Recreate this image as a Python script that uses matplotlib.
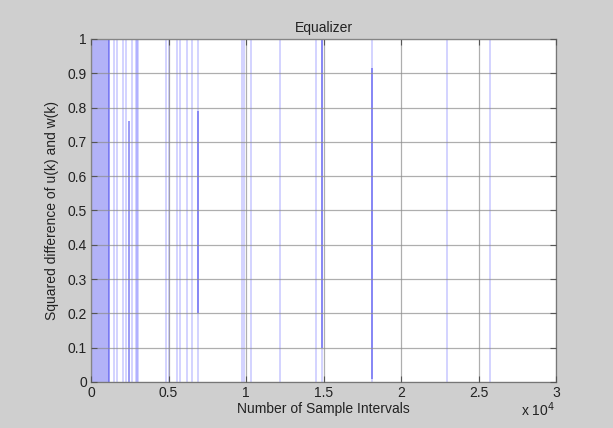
import matplotlib.pyplot as plt

# sample index where the dense start-up block of errors ends
dense_start = 0
dense_end = 1180

# sparse single-sample error spikes (0 -> 1 -> 0), faint
spike_pos = [1480, 1700, 2090, 2240, 2670, 2880, 2960, 3040,
             4820, 5030, 5530, 5740, 6210, 6500, 6920,
             9720, 9870, 10300, 12190, 14520, 14880,
             18150, 22950, 25740]

# spikes with a heavier segment (several consecutive samples)
strong_pos = [1160, 2430, 6920, 14880, 18150]
strong_lo = [0.0, 0.0, 0.20, 0.10, 0.01]
strong_hi = [1.0, 0.76, 0.79, 1.0, 0.915]

xticks = [0, 5000, 10000, 15000, 20000, 25000, 30000]
xtick_labels = ['0', '0.5', '1', '1.5', '2', '2.5', '3']
yticks = [0, 0.1, 0.2, 0.3, 0.4, 0.5, 0.6, 0.7, 0.8, 0.9, 1]
ytick_labels = ['0', '0.1', '0.2', '0.3', '0.4', '0.5', '0.6', '0.7', '0.8', '0.9', '1']

plt.rcParams['font.family'] = ['Liberation Sans', 'DejaVu Sans']
plt.rcParams['font.size'] = 10

fig = plt.figure(figsize=(6.13, 4.28), dpi=100, facecolor='#cfcfcf')
ax = fig.add_axes([0.1485, 0.1075, 0.7586, 0.8014])
ax.set_facecolor('white')

ax.axvspan(dense_start, dense_end, color='#b2b2f7', lw=0, zorder=1)
ax.vlines(spike_pos, 0, 1, colors='#3030ff', alpha=0.25, lw=1.2, zorder=1.5)
ax.vlines(strong_pos, strong_lo, strong_hi, colors='#4a4aee', alpha=0.6, lw=1.3, zorder=1.6)

ax.set_xlim(0, 30000)
ax.set_ylim(0, 1)
ax.set_xticks(xticks)
ax.set_xticklabels(xtick_labels)
ax.set_yticks(yticks)
ax.set_yticklabels(ytick_labels)

ax.set_axisbelow(False)
ax.grid(True, color='#8c8c8c', lw=0.9, alpha=0.7)
ax.tick_params(direction='in', length=4, top=True, right=True,
               color='#555555', labelcolor='#222222', pad=3)
for s in ax.spines.values():
    s.set_color('#777777')
    s.set_linewidth(0.9)

ax.set_title('Equalizer', fontsize=10, pad=5, color='#222222')
ax.set_xlabel('Number of Sample Intervals', labelpad=1, color='#222222')
ax.set_ylabel('Squared difference of u(k) and w(k)', labelpad=6, color='#222222')
fig.text(0.905, 0.022, r'x 10$^{4}$', ha='right', va='bottom', color='#222222')

fig.savefig('out.png', dpi=100, facecolor=fig.get_facecolor())
